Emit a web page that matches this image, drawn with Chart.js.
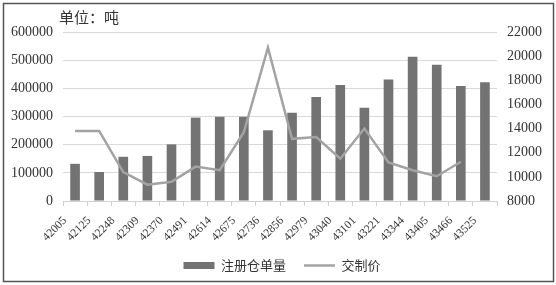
<!DOCTYPE html>
<html>
<head>
<meta charset="utf-8">
<script src="https://cdn.jsdelivr.net/npm/chart.js@4.4.0/dist/chart.umd.min.js"></script>
<style>
  html, body { margin: 0; padding: 0; background: #fff; }
  #wrap { width: 556px; height: 285px; }
</style>
</head>
<body>
<div id="wrap"><canvas id="myChart" width="556" height="285"></canvas></div>
<script>
// data
const labels = ['42005', '42125', '42248', '42309', '42370', '42491', '42614', '42675', '42736',
                '42856', '42979', '43040', '43101', '43221', '43344', '43405', '43466', '43525'];
const warrants = [132000, 103000, 157000, 160000, 201000, 296000, 299000, 299000, 251000,
                  313000, 369000, 412000, 331000, 431000, 512000, 484000, 408000, 422000];
const price = [13800, 13800, 10400, 9350, 9600, 10850, 10550, 13700, 20700,
               13150, 13300, 11500, 14000, 11200, 10550, 10050, 11250, null];
const leftTicks = [0, 600000, 100000];
const rightTicks = [8000, 22000, 2000];
const unitText = '单位：吨';

const serif = '"Liberation Serif", "DejaVu Serif", serif';
const cjk = '"Noto Sans CJK SC", "Noto Sans", sans-serif';

const frame = {
    id: 'frame',
    beforeDraw(chart) {
        const c = chart.ctx;
        c.save();
        c.fillStyle = '#fff';
        c.fillRect(0, 0, chart.width, chart.height);
        c.strokeStyle = '#555';
        c.lineWidth = 1.5;
        c.strokeRect(3.5, 3.5, chart.width - 6, chart.height - 7);
        c.restore();
    },
    afterDraw(chart) {
        const c = chart.ctx;
        c.save();
        c.font = '15px ' + cjk;
        c.fillStyle = '#333';
        c.textBaseline = 'middle';
        c.fillText(unitText, chart.chartArea.left - 4, 17);
        c.restore();
    }
};

let ctx = document.getElementById('myChart').getContext('2d');
let myChart = new Chart(ctx, {
    type: 'bar',
    data: {
        labels: labels,
        datasets: [{
            label: '注册仓单量',
            data: warrants,
            backgroundColor: '#737373',
            borderWidth: 0,
            yAxisID: 'y',
            order: 1,
            categoryPercentage: 1,
            barPercentage: 0.4
        }, {
            type: 'line',
            label: '交制价',
            data: price,
            borderColor: '#a3a3a3',
            backgroundColor: '#a3a3a3',
            borderWidth: 2.5,
            pointRadius: 0,
            pointStyle: 'line',
            tension: 0,
            yAxisID: 'y1',
            order: 0
        }]
    },
    options: {
        responsive: false,
        animation: false,
        layout: { padding: { left: 8, right: 0, top: 32, bottom: 3 } },
        plugins: {
            tooltip: { enabled: false },
            legend: {
                position: 'bottom',
                labels: {
                    usePointStyle: true,
                    pointStyleWidth: 31,
                    boxHeight: 7,
                    padding: 18,
                    color: '#333',
                    font: { family: cjk, size: 13 },
                    sort: (a, b) => a.datasetIndex - b.datasetIndex,
                    generateLabels(chart) {
                        const items = Chart.defaults.plugins.legend.labels.generateLabels(chart);
                        items.forEach(it => {
                            it.pointStyle = it.datasetIndex === 0 ? 'rect' : 'line';
                            if (it.datasetIndex === 0) { it.lineWidth = 0; }
                            else { it.lineWidth = 2.5; it.strokeStyle = '#a3a3a3'; }
                        });
                        return items;
                    }
                }
            }
        },
        scales: {
            x: {
                offset: true,
                grid: { drawOnChartArea: false, color: '#d0d0d0', tickLength: 5, offset: true },
                border: { color: '#d0d0d0' },
                ticks: {
                    minRotation: 45, maxRotation: 45,
                    labelOffset: -10,
                    padding: 8,
                    autoSkip: false,
                    color: '#333',
                    font: { family: serif, size: 11.5 }
                },
                afterFit: s => { s.height = 40; }
            },
            y: {
                position: 'left',
                min: leftTicks[0], max: leftTicks[1],
                ticks: {
                    stepSize: leftTicks[2], color: '#333', padding: 10,
                    font: { family: serif, size: 14 },
                    callback: v => String(v)
                },
                grid: { color: '#d9d9d9', drawTicks: false },
                border: { display: false },
                afterFit: s => { s.width = 55; }
            },
            y1: {
                position: 'right',
                min: rightTicks[0], max: rightTicks[1],
                ticks: {
                    stepSize: rightTicks[2], color: '#333', padding: 10,
                    font: { family: serif, size: 14 },
                    callback: v => String(v)
                },
                grid: { drawOnChartArea: false, drawTicks: false },
                border: { display: false },
                afterFit: s => { s.width = 59; }
            }
        }
    },
    plugins: [frame]
});
</script>
</body>
</html>
